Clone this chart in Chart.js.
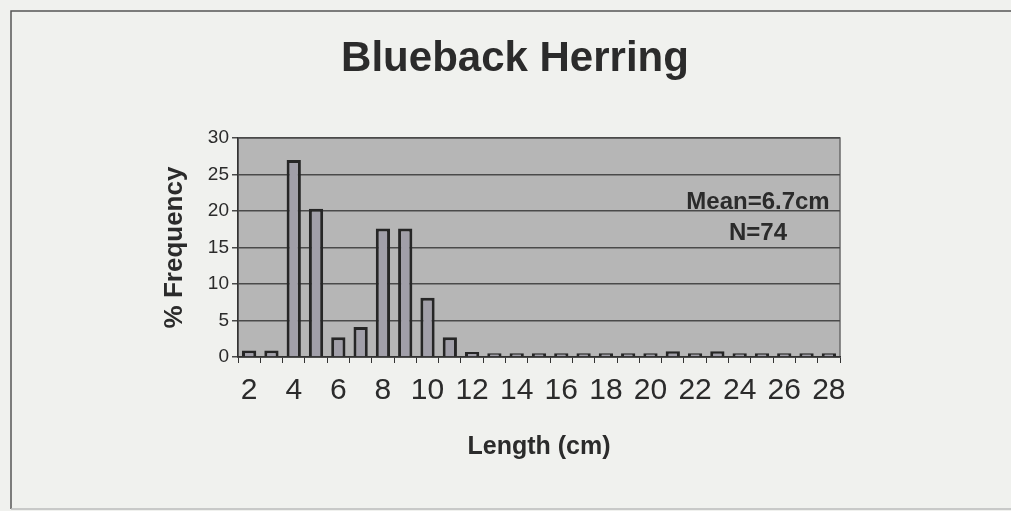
<!DOCTYPE html>
<html>
<head>
<meta charset="utf-8">
<script src="https://cdn.jsdelivr.net/npm/chart.js@4"></script>
<style>
  html, body { margin:0; padding:0; background:#f0f1ee; }
  #wrap { width:1011px; height:511px; position:relative; }
</style>
</head>
<body>
<div id="wrap"><canvas id="chart" width="1011" height="511"></canvas></div>
<script>
// Données
const lengths = [2,3,4,5,6,7,8,9,10,11,12,13,14,15,16,17,18,19,20,21,22,23,24,25,26,27,28];
const frequency = [0.9,0.9,27.0,20.3,2.7,4.1,17.6,17.6,8.1,2.7,0.7,0.5,0.5,0.5,0.5,0.5,0.5,0.5,0.5,0.8,0.5,0.8,0.5,0.5,0.5,0.5,0.5];
const yTicks = [0,5,10,15,20,25,30];
const chartTitle = "Blueback Herring";
const notes = ["Mean=6.7cm", "N=74"];

const FONT = "'Liberation Sans', Arial, sans-serif";
const INK = "#2b2b2b";

// fond du graphique, cadre, titre et notes
const frame = {
  id: "frame",
  beforeDraw(chart){
    const {ctx, chartArea:a} = chart;
    ctx.save();
    ctx.strokeStyle = "#555";
    ctx.lineWidth = 1.5;
    ctx.beginPath();
    ctx.moveTo(11, 509); ctx.lineTo(11, 11); ctx.lineTo(1011, 11);
    ctx.stroke();
    ctx.strokeStyle = "#bbb";
    ctx.beginPath(); ctx.moveTo(11, 509); ctx.lineTo(1011, 509); ctx.stroke();
    ctx.fillStyle = "#b6b6b6";
    ctx.fillRect(a.left, a.top, a.right-a.left, a.bottom-a.top);
    ctx.strokeStyle = "#6a6a6a";
    ctx.lineWidth = 1.5;
    ctx.strokeRect(a.left, a.top, a.right-a.left, a.bottom-a.top);

    ctx.fillStyle = INK;
    ctx.font = "bold 42px " + FONT;
    ctx.textAlign = "center";
    ctx.textBaseline = "alphabetic";
    ctx.fillText(chartTitle, 515, 71);
    ctx.restore();
  },
  afterDatasetsDraw(chart){
    const {ctx, chartArea:a} = chart;
    ctx.save();
    ctx.fillStyle = INK;
    ctx.font = "bold 24px " + FONT;
    ctx.textAlign = "center";
    ctx.textBaseline = "middle";
    ctx.fillText(notes[0], a.right - 82, a.top + 64);
    ctx.fillText(notes[1], a.right - 82, a.top + 95);
    ctx.restore();
  }
};

new Chart(document.getElementById("chart").getContext("2d"), {
  type: "bar",
  data: {
    labels: lengths,
    datasets: [{
      data: frequency,
      backgroundColor: "#a19fa9",
      borderColor: "#262626",
      borderWidth: 3,
      barPercentage: 0.64,
      categoryPercentage: 1
    }]
  },
  options: {
    responsive: false,
    animation: false,
    layout: { padding: { left:150, right:171, top:138, bottom:30 } },
    plugins: {
      legend: { display:false },
      tooltip: { enabled:false },
      title: { display:false }
    },
    scales: {
      x: {
        afterFit: s => { s.height = 124; },
        grid: { display:true, drawOnChartArea:false, offset:true, tickLength:6, color:"#333" },
        border: { color:"#333", width:1.5 },
        ticks: {
          autoSkip: false, maxRotation: 0, padding: 10, color: INK,
          font: { family: FONT, size: 30 },
          callback: (v, i) => lengths[i] % 2 === 0 ? String(lengths[i]) : ""
        },
        title: {
          display: true, text: "Length (cm)", color: INK,
          font: { family: FONT, size: 25, weight: "bold" },
          padding: { top:0, bottom:19 }
        }
      },
      y: {
        min: 0, max: 30,
        afterFit: s => { s.width = 88; },
        afterBuildTicks: s => { s.ticks = yTicks.map(v => ({ value:v })); },
        grid: { color:"#4a4a4a", lineWidth:1.5, tickLength:6 },
        border: { color:"#333", width:1.5 },
        ticks: { padding: 3, color: INK, font: { family: FONT, size: 19 } },
        title: {
          display: true, text: "% Frequency", color: INK,
          font: { family: FONT, size: 26, weight: "bold" },
          padding: { top:9, bottom:0 }
        }
      }
    }
  },
  plugins: [frame]
});
</script>
</body>
</html>
